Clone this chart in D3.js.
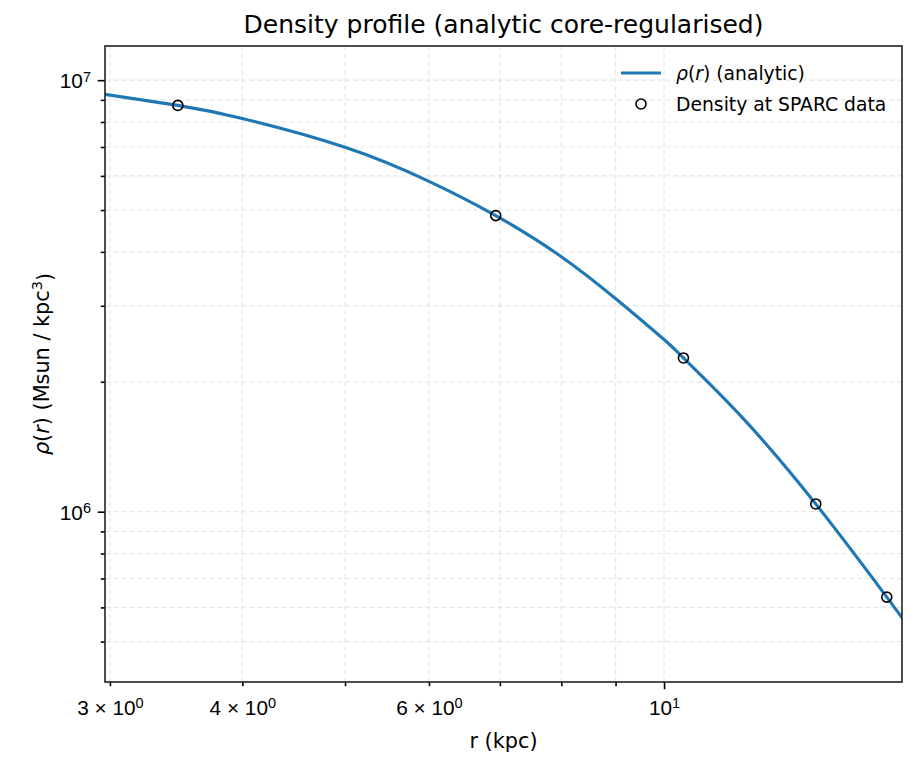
<!DOCTYPE html>
<html>
<head>
<meta charset="utf-8">
<script src="https://cdn.jsdelivr.net/npm/d3@7"></script>
<style>
  body { margin: 0; background: #fff; }
  svg { font-family: "DejaVu Sans", sans-serif; }
</style>
</head>
<body>
<script>
'use strict';

// analytic curve (r in kpc, rho in Msun/kpc^3)
const curveR   = [2.968, 3.477, 4.0, 5.0, 6.0, 6.937, 7.975, 9.004, 10.017, 10.43, 11.79, 13.905, 16.224, 16.77];
const curveRho = [9.27e6, 8.74e6, 8.15e6, 6.99e6, 5.83e6, 4.855e6, 3.92e6, 3.115e6, 2.496e6, 2.271e6, 1.676e6, 1.042e6, 6.34e5, 5.68e5];

// density evaluated at the SPARC radii
const sparcR   = [3.477, 6.937, 10.43, 13.905, 16.224];
const sparcRho = [8.74e6, 4.855e6, 2.271e6, 1.042e6, 6.34e5];

// ticks
const xMajorTicks = [10];
const xMinorTicks = [3, 4, 5, 6, 7, 8, 9];
const xTickLabels = {3: ['3 × 10', '0'], 4: ['4 × 10', '0'], 6: ['6 × 10', '0'], 10: ['10', '1']};
const yMajorTicks = [1e6, 1e7];
const yMinorTicks = [5e5, 6e5, 7e5, 8e5, 9e5, 2e6, 3e6, 4e6, 5e6, 6e6, 7e6, 8e6, 9e6];
const yTickLabels = {1e6: ['10', '6'], 1e7: ['10', '7']};

const titleText = 'Density profile (analytic core-regularised)';

const svgWidth = 917, svgHeight = 767;
const plotLeft = 105, plotRight = 902, plotTop = 46, plotBottom = 682;

const svg = d3.select('body').append('svg')
  .attr('width', svgWidth)
  .attr('height', svgHeight);

const x = d3.scaleLog().domain([2.968, 16.77]).range([plotLeft, plotRight]);
const y = d3.scaleLog().domain([4.03e5, 1.2e7]).range([plotBottom, plotTop]);

// grid, both major and minor
const grid = svg.append('g')
  .attr('stroke', '#b0b0b0')
  .attr('stroke-opacity', 0.3)
  .attr('stroke-width', 1.2)
  .attr('stroke-dasharray', '5,3');

grid.selectAll('.vg')
  .data(xMinorTicks.concat(xMajorTicks))
  .enter().append('line')
    .attr('x1', d => x(d)).attr('x2', d => x(d))
    .attr('y1', plotTop).attr('y2', plotBottom);

grid.selectAll('.hg')
  .data(yMinorTicks.concat(yMajorTicks))
  .enter().append('line')
    .attr('x1', plotLeft).attr('x2', plotRight)
    .attr('y1', d => y(d)).attr('y2', d => y(d));

// clip for data
svg.append('clipPath').attr('id', 'clip')
  .append('rect')
    .attr('x', plotLeft).attr('y', plotTop)
    .attr('width', plotRight - plotLeft).attr('height', plotBottom - plotTop);

const line = d3.line()
  .x((d, i) => x(curveR[i]))
  .y((d, i) => y(curveRho[i]))
  .curve(d3.curveNatural);

svg.append('path')
  .datum(curveR)
  .attr('clip-path', 'url(#clip)')
  .attr('fill', 'none')
  .attr('stroke', '#1f77b4')
  .attr('stroke-width', 3.1)
  .attr('stroke-linejoin', 'round')
  .attr('stroke-linecap', 'square')
  .attr('d', line);

svg.append('g')
  .selectAll('circle')
  .data(sparcR)
  .enter().append('circle')
    .attr('cx', d => x(d))
    .attr('cy', (d, i) => y(sparcRho[i]))
    .attr('r', 5)
    .attr('fill', 'none')
    .attr('stroke', 'black')
    .attr('stroke-width', 1.6);

// helper: write "base^sup" into a text node
function mathLabel(sel, parts) {
  sel.text(null);
  sel.append('tspan').text(parts[0]);
  sel.append('tspan')
    .attr('dy', '-0.45em')
    .style('font-size', '0.7em')
    .text(parts[1]);
}

// x axis
const xAxis = svg.append('g')
  .attr('transform', `translate(0,${plotBottom})`)
  .call(d3.axisBottom(x).tickValues(xMajorTicks.concat(xMinorTicks)).tickSize(4.2).tickPadding(7).tickFormat(''));

xAxis.selectAll('.tick')
  .filter(d => xMajorTicks.includes(d))
  .select('line').attr('y2', 7.3);

xAxis.selectAll('.tick text')
  .filter(d => xTickLabels[d])
  .attr('y', 33)
  .attr('dy', 0)
  .style('font-size', '20.8px')
  .attr('fill', 'black')
  .each(function(d) { mathLabel(d3.select(this), xTickLabels[d]); });

// y axis
const yAxis = svg.append('g')
  .attr('transform', `translate(${plotLeft},0)`)
  .call(d3.axisLeft(y).tickValues(yMajorTicks.concat(yMinorTicks)).tickSize(4.2).tickPadding(7).tickFormat(''));

yAxis.selectAll('.tick')
  .filter(d => yMajorTicks.includes(d))
  .select('line').attr('x2', -7.3);

yAxis.selectAll('.tick text')
  .filter(d => yTickLabels[d])
  .attr('x', -14)
  .attr('dy', '0.36em')
  .style('font-size', '20.8px')
  .attr('fill', 'black')
  .each(function(d) { mathLabel(d3.select(this), yTickLabels[d]); });

svg.selectAll('.domain').remove();
svg.selectAll('.tick line').attr('stroke', 'black').attr('stroke-width', 1.6);

// frame
svg.append('rect')
  .attr('x', plotLeft).attr('y', plotTop)
  .attr('width', plotRight - plotLeft).attr('height', plotBottom - plotTop)
  .attr('fill', 'none')
  .attr('stroke', '#222')
  .attr('stroke-width', 1.6);

// title and labels
svg.append('text')
  .attr('x', (plotLeft + plotRight) / 2)
  .attr('y', 33)
  .attr('text-anchor', 'middle')
  .style('font-size', '25px')
  .text(titleText);

svg.append('text')
  .attr('x', (plotLeft + plotRight) / 2)
  .attr('y', 748)
  .attr('text-anchor', 'middle')
  .style('font-size', '20.8px')
  .text('r (kpc)');

const yLabel = svg.append('text')
  .attr('transform', `translate(49,${(plotTop + plotBottom) / 2})rotate(-90)`)
  .attr('text-anchor', 'middle')
  .style('font-size', '20.8px');
yLabel.append('tspan').style('font-style', 'italic').text('ρ');
yLabel.append('tspan').text('(');
yLabel.append('tspan').style('font-style', 'italic').text('r');
yLabel.append('tspan').text(') (Msun / kpc');
yLabel.append('tspan').attr('dy', '-0.45em').style('font-size', '0.7em').text('3');
yLabel.append('tspan').attr('dy', '0.45em').text(')');

// legend
const legend = svg.append('g').style('font-size', '18.75px');
legend.append('line')
  .attr('x1', 621).attr('x2', 661)
  .attr('y1', 73).attr('y2', 73)
  .attr('stroke', '#1f77b4')
  .attr('stroke-width', 3.1);
const l1 = legend.append('text').attr('x', 676).attr('y', 79.5);
l1.append('tspan').style('font-style', 'italic').text('ρ');
l1.append('tspan').text('(');
l1.append('tspan').style('font-style', 'italic').text('r');
l1.append('tspan').text(') (analytic)');

legend.append('circle')
  .attr('cx', 641).attr('cy', 104)
  .attr('r', 5)
  .attr('fill', 'none')
  .attr('stroke', 'black')
  .attr('stroke-width', 1.6);
legend.append('text').attr('x', 676).attr('y', 110.5).text('Density at SPARC data');
</script>
</body>
</html>
